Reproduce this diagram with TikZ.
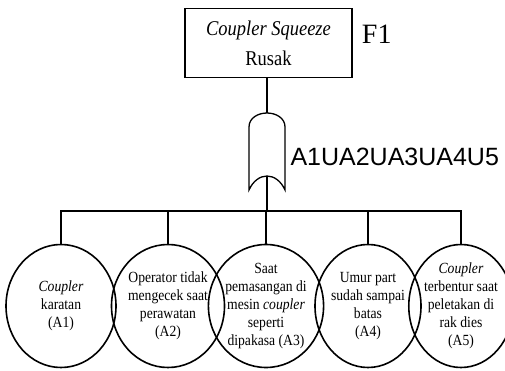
\documentclass[tikz,border=0pt]{standalone}
\usepackage{fontspec}
\setmainfont{Liberation Serif}
\newfontfamily\causefont[FakeStretch=0.88]{Liberation Serif}
\newfontfamily\gatefont{Liberation Sans}
\usetikzlibrary{positioning, calc, shapes.geometric}
\tikzset{event/.style={draw, line width=1.5pt, minimum width=167pt, minimum height=69pt, align=center, inner sep=0pt, font=\causefont\fontsize{21}{24}\selectfont}}
\tikzset{cause/.style={ellipse, draw, line width=1.6pt, minimum height=123pt, inner sep=0pt, align=center, font=\causefont\fontsize{15.5}{18}\selectfont}}
\tikzset{wire/.style={line width=1.3pt}}

\begin{document}
\begin{tikzpicture}[x=1pt, y=1pt]
          \useasboundingbox (0,0) rectangle (505,-371);

          \node[event] (top) at (268.5,-43) {\textit{Coupler Squeeze}\\[6pt]Rusak};
          \node (labeltop) at ($(top.east)+(24,9)$) {\fontsize{28}{30}\selectfont F1};

          \coordinate (gateout) at (267,-113);
          \coordinate (gatein) at (267,-176);
          \draw[wire] (249,-190) -- (249,-127) .. controls (249,-118) and (258,-113) .. (gateout)
            .. controls (276,-113) and (285,-118) .. (285,-127) -- (285,-190)
            .. controls (281,-181) and (274,-176) .. (gatein)
            .. controls (260,-176) and (253,-181) .. (249,-190) -- cycle;
          \node[anchor=west] (labelgate) at ($(gateout)+(20,-44)$) {\gatefont\fontsize{25}{28}\selectfont A1UA2UA3UA4U5};

          \coordinate (bus) at ($(gatein)-(0,35)$);

          \node[cause, minimum width=110pt] (a1) at (61,-306) {\textit{Coupler}\\karatan\\(A1)};
          \node[cause, minimum width=103pt] (a2) at (168,-306) {Operator tidak\\mengecek saat\\perawatan\\(A2)};
          \node[cause, minimum width=96pt] (a3) at (266,-306) {Saat\\pemasangan di\\mesin \textit{coupler}\\seperti\\dipakasa (A3)};
          \node[cause, minimum width=106pt] (a4) at (368,-306) {Umur part\\sudah sampai\\batas\\(A4)};
          \node[cause, minimum width=88pt] (a5) at (461,-306) {\textit{Coupler}\\terbentur saat\\peletakan di\\rak dies\\(A5)};

          \draw[wire] (top.south -| gateout) -- (gateout);
          \draw[wire] (gatein) -- (bus);
          \foreach \n in {a1,a2,a3,a4,a5}
            \draw[wire] (bus) -| (\n.north);
        \end{tikzpicture}
\end{document}
